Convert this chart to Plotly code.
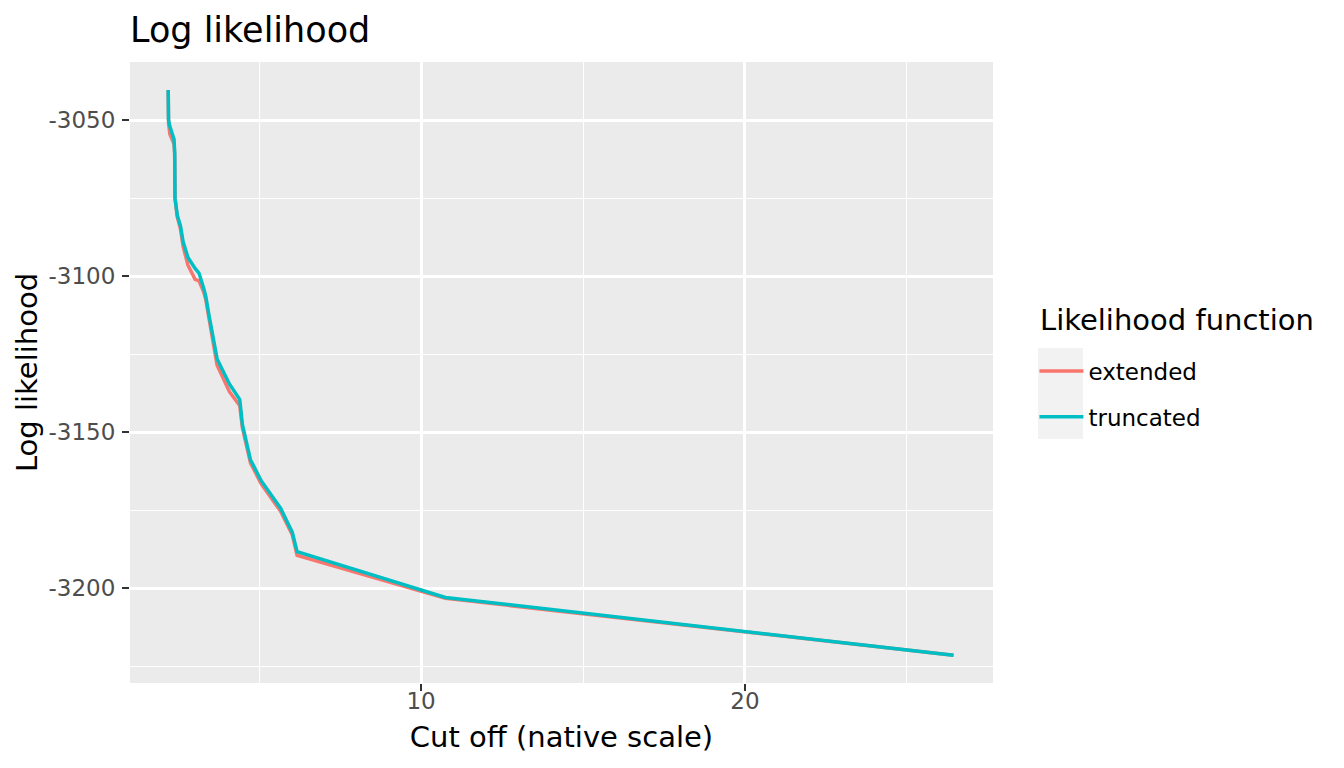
import plotly.graph_objects as go

# cut off values (native scale) and log likelihood for both likelihood functions
cut_off = [2.19, 2.20, 2.24, 2.37, 2.39, 2.40, 2.47, 2.57, 2.65, 2.80, 3.02, 3.14, 3.29, 3.35,
           3.45, 3.55, 3.70, 4.08, 4.40, 4.48, 4.73, 5.06, 5.66, 6.02, 6.17, 10.75, 26.44]
ll_truncated = [-3040.4, -3050.0, -3052.0, -3056.2, -3060.5, -3075.0, -3080.5, -3084.0, -3089.0,
                -3094.0, -3097.5, -3099.0, -3104.0, -3106.5, -3112.5, -3118.0, -3126.5, -3134.5,
                -3139.5, -3147.5, -3158.8, -3165.5, -3174.3, -3182.0, -3188.2, -3202.9, -3221.4]
ll_extended = [-3040.4, -3051.0, -3054.5, -3057.7, -3061.0, -3075.0, -3081.0, -3085.0, -3090.5,
               -3096.5, -3101.0, -3101.5, -3105.2, -3107.5, -3113.5, -3119.0, -3128.5, -3137.0,
               -3141.5, -3148.5, -3159.8, -3166.5, -3175.3, -3182.8, -3189.4, -3203.2, -3221.4]

x_ticks = [10, 20]
x_minor = [5, 15, 25]
y_ticks = [-3050, -3100, -3150, -3200]
y_minor = [-3075, -3125, -3175, -3225]

fig = go.Figure()
fig.add_trace(go.Scatter(x=cut_off, y=ll_extended, mode="lines", name="extended",
                         legendgroup="a", line=dict(color="#F8766D", width=3.5)))
fig.add_trace(go.Scatter(x=cut_off, y=ll_truncated, mode="lines", name="truncated",
                         legendgroup="b", line=dict(color="#00BFC4", width=3.5)))

axis_common = dict(
    showline=False, zeroline=False, gridcolor="white", gridwidth=2.7,
    ticks="outside", ticklen=7, tickwidth=1.8, tickcolor="#333333",
    tickfont=dict(size=23, color="#4D4D4D"),
)

fig.update_xaxes(
    range=[1.01, 27.66], tickvals=x_ticks, ticktext=[str(v) for v in x_ticks],
    ticklabelstandoff=-10,
    title=dict(text="Cut off (native scale)", font=dict(size=29, color="black"), standoff=14),
    minor=dict(tickvals=x_minor, showgrid=True, gridcolor="white", gridwidth=1.4, ticklen=0),
    **axis_common,
)
fig.update_yaxes(
    range=[-3230.3, -3031.4], tickvals=y_ticks, ticktext=[str(v) for v in y_ticks],
    ticklabelstandoff=2,
    title=dict(text="Log likelihood", font=dict(size=29, color="black"), standoff=2),
    minor=dict(tickvals=y_minor, showgrid=True, gridcolor="white", gridwidth=1.4, ticklen=0),
    **axis_common,
)

# grey background behind the legend keys, as in ggplot
fig.add_shape(type="rect", xref="paper", yref="paper",
              x0=1.0521, x1=1.1043, y0=0.3929, y1=0.5395,
              fillcolor="#F2F2F2", line=dict(width=0), layer="below")

# legend title placed by hand so the gap to the keys matches
fig.add_annotation(text="Likelihood function", xref="paper", yref="paper",
                   x=1.0521, y=0.5845, xanchor="left", yanchor="middle",
                   showarrow=False, font=dict(size=29, color="black"))

fig.update_layout(
    width=1344, height=768,
    margin=dict(l=122, r=359, t=54, b=93),
    paper_bgcolor="white", plot_bgcolor="#EBEBEB",
    font=dict(family="DejaVu Sans", color="black"),
    title=dict(text="Log likelihood", font=dict(size=35, color="black"),
               x=122 / 1344, xanchor="left", y=1 - 22 / 768, yanchor="middle"),
    legend=dict(
        font=dict(size=23), x=1.048, xanchor="left", y=0.537, yanchor="top",
        bgcolor="rgba(0,0,0,0)", tracegroupgap=13, itemwidth=44,
    ),
)

fig.write_html("out.html")
